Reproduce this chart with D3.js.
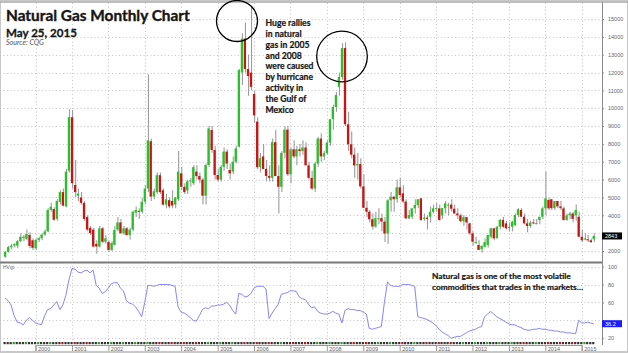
<!DOCTYPE html>
<html>
<head>
<meta charset="utf-8">
<script src="https://cdn.jsdelivr.net/npm/d3@7"></script>
<style>
  body { margin: 0; background: #fff; }
  svg { display: block; font-family: "Liberation Sans", Arial, sans-serif; }
  .note { font-family: Lato, "Open Sans", sans-serif; font-weight: 700; fill: #161616; stroke: #161616; stroke-width: 0.22px; }
</style>
</head>
<body>
<div id="chart"></div>
<script>
// monthly candles, Mar 1999 .. May 2015 (price x1000)
var months = d3.timeMonth.range(new Date(1999, 2, 1), new Date(2015, 5, 1));

var opens = [
  1680, 1950, 2220, 2300, 2300, 2550, 2720, 2680, 2900, 2600,
  2150, 2620, 2720, 2920, 3100, 4300, 4350, 3800, 4750, 5300,
  4500, 6500, 9500, 5700, 5100, 5000, 4700, 3900, 3300, 3200,
  2400, 2250, 3270, 2520, 2500, 2060, 2350, 3200, 3600, 3000,
  3270, 2900, 3200, 4150, 4250, 4200, 4760, 5500, 8150, 5050,
  5300, 6250, 5400, 4600, 4850, 4800, 4600, 4900, 6350, 5600,
  5400, 5900, 5800, 6450, 6200, 6000, 5100, 6820, 8780, 7660,
  6260, 6000, 6720, 7570, 6540, 6450, 7000, 7850, 12000, 13900,
  12200, 12000, 10800, 9250, 6700, 7300, 6600, 6200, 6100, 8100,
  6200, 5600, 7500, 8800, 6300, 7700, 7300, 7700, 7600, 7800,
  6800, 6100, 5500, 6900, 8300, 7300, 7480, 8070, 9400, 10070,
  11200, 11750, 13370, 9100, 7980, 7400, 6800, 6870, 5620, 4420,
  4200, 3780, 3370, 3840, 3840, 3650, 2980, 4840, 5040, 4900,
  5570, 5230, 4770, 3830, 3920, 4390, 4580, 4950, 3800, 3870,
  3920, 4200, 4400, 4390, 4000, 4390, 4600, 4600, 4370, 4100,
  4000, 3670, 3900, 3550, 2990, 2500, 2340, 2100, 2240, 2340,
  2800, 3270, 2710, 3360, 3740, 3550, 3350, 3360, 3460, 4020,
  4300, 3920, 3550, 3400, 3600, 3560, 3740, 3920, 4390, 4860,
  4900, 4400, 4800, 4500, 4390, 3740, 4000, 4100, 4000, 3920,
  2800, 2700, 2660, 2600, 2660
];
var highs = [
  2000, 2300, 2400, 2450, 2620, 3000, 2900, 3200, 3050, 2700,
  2700, 2800, 2980, 3200, 4400, 4700, 4450, 4900, 5400, 5500,
  6600, 9950, 9900, 7100, 5500, 5300, 4800, 4000, 3400, 3300,
  2600, 3400, 3350, 2900, 2600, 2550, 3400, 3900, 3800, 3400,
  3350, 3300, 4250, 4500, 4400, 5000, 5700, 11900, 8300, 5500,
  6400, 6400, 5500, 5200, 5000, 5400, 5000, 7600, 6700, 5800,
  6000, 6100, 6800, 6800, 6400, 6100, 6900, 9000, 9000, 7900,
  6600, 6800, 7800, 7700, 6900, 7300, 7900, 12200, 14200, 14800,
  13000, 15700, 11000, 9500, 7500, 8000, 7100, 6800, 8300, 8800,
  6800, 7600, 9000, 9000, 7800, 8200, 7900, 8000, 8200, 8100,
  7000, 6500, 7000, 8400, 8600, 7600, 8200, 9400, 10200, 10900,
  12000, 13640, 13700, 9800, 8700, 7800, 7500, 7200, 6300, 4800,
  4300, 4100, 4200, 4400, 4100, 3900, 4900, 5300, 5100, 6000,
  6100, 5700, 4900, 4300, 4400, 4900, 4900, 4950, 4100, 4000,
  4500, 4600, 4700, 4600, 4400, 4800, 4700, 4900, 4600, 4400,
  4100, 4000, 3900, 3600, 3100, 2800, 2600, 2300, 2700, 2900,
  3300, 3300, 3400, 3800, 3900, 3700, 3600, 3700, 4100, 4400,
  4400, 4100, 3800, 3700, 3800, 3800, 3900, 4500, 6450, 5000,
  4900, 4800, 4800, 4800, 4500, 4100, 4200, 4200, 4600, 4200,
  3200, 3000, 2900, 2700, 3000
];
var lows = [
  1630, 1900, 2100, 2200, 2150, 2500, 2550, 2600, 2150, 2050,
  2050, 2500, 2600, 2850, 3050, 4200, 3700, 3700, 4600, 4500,
  4450, 6400, 5500, 5000, 4800, 4600, 3700, 3100, 2900, 2200,
  1850, 2200, 2450, 2400, 1950, 2000, 2300, 3100, 2950, 2900,
  2850, 2650, 3100, 3900, 3800, 4100, 4600, 5300, 4800, 4900,
  5200, 5200, 4550, 4400, 4400, 4400, 4400, 4800, 5400, 5200,
  5200, 5600, 5700, 6000, 5800, 4600, 4600, 6700, 7500, 6000,
  5900, 5900, 6500, 6600, 6000, 6300, 6900, 7800, 11300, 12000,
  10700, 11000, 9200, 6600, 6400, 6600, 5900, 5900, 5900, 6200,
  4100, 5300, 7200, 6200, 5800, 7200, 6800, 7300, 7400, 6800,
  6000, 5400, 5300, 6700, 7000, 7100, 7400, 7900, 8800, 9800,
  10700, 11600, 9000, 7600, 7200, 6100, 6000, 5500, 4400, 3900,
  3600, 3200, 3300, 3500, 3100, 2500, 2400, 4200, 4200, 4700,
  5000, 4700, 3800, 3800, 3800, 4100, 4400, 3700, 3700, 3200,
  3600, 4100, 4200, 3700, 3800, 4100, 4000, 4200, 4100, 3800,
  3600, 3400, 3200, 2900, 2300, 2400, 2050, 1900, 2200, 2200,
  2700, 2600, 2700, 3200, 3300, 3200, 3100, 3100, 3400, 3900,
  3900, 3500, 3050, 3300, 3500, 3500, 3500, 3800, 4000, 4300,
  4300, 4300, 4400, 4300, 3700, 3700, 3800, 3600, 3700, 2800,
  2500, 2600, 2500, 2450, 2500
];
var closes = [
  1950, 2220, 2300, 2380, 2550, 2800, 2800, 2950, 2280, 2180,
  2620, 2720, 2920, 3100, 4300, 4480, 3750, 4800, 5300, 4550,
  6450, 9500, 5800, 5300, 5220, 4700, 3800, 3200, 3000, 2250,
  2250, 3270, 2520, 2710, 2060, 2450, 3180, 3600, 3000, 3270,
  2900, 3200, 4200, 4300, 4200, 4760, 5500, 8200, 5050, 5350,
  6250, 5300, 4600, 4900, 4500, 4550, 5000, 6450, 5600, 5300,
  5900, 5950, 6700, 6200, 6000, 5100, 6820, 8870, 7660, 6260,
  6000, 6720, 7570, 6900, 6350, 7000, 7750, 12140, 13900, 12200,
  11800, 11200, 9600, 6700, 7200, 6600, 6200, 6100, 8100, 6200,
  5600, 7500, 8800, 6300, 7700, 7300, 7700, 7600, 7800, 6800,
  6100, 5500, 6900, 8300, 7300, 7480, 8070, 9380, 10070, 10740,
  11750, 13370, 9100, 7980, 7400, 6800, 6870, 5620, 4420, 4200,
  3780, 3370, 3840, 3840, 3650, 2980, 4840, 5040, 4900, 5570,
  5130, 4770, 3830, 4020, 4390, 4580, 4900, 3740, 3870, 3800,
  4200, 4390, 4400, 3740, 4400, 4670, 4600, 4370, 4100, 4000,
  3670, 3900, 3600, 2990, 2520, 2500, 2060, 2300, 2500, 2900,
  3270, 2710, 3360, 3740, 3360, 3270, 3350, 3640, 4020, 4340,
  3920, 3550, 3400, 3600, 3560, 3560, 3920, 4390, 4950, 4390,
  4400, 4800, 4500, 4400, 3740, 4000, 4100, 3800, 4300, 2800,
  2600, 2700, 2600, 2500, 2840
];
// historical volatility study (lower panel)
var volatility = [
  65, 62, 57, 45, 38, 37, 35, 40, 43, 40,
  37, 36, 35, 45, 52, 53, 57, 61, 52, 57,
  68, 85, 98, 97, 94, 93, 95, 96, 93, 96,
  79, 76, 70, 72, 76, 81, 82, 82, 76, 73,
  62, 59, 58, 55, 50, 44, 60, 79, 79, 78,
  79, 80, 80, 80, 80, 79, 78, 55, 49, 48,
  46, 43, 40, 39, 45, 52, 54, 53, 56, 56,
  57, 57, 58, 60, 57, 51, 47, 70, 69, 66,
  67, 70, 76, 78, 78, 78, 75, 42, 48, 53,
  58, 69, 70, 71, 73, 73, 72, 66, 64, 63,
  58, 54, 55, 50, 48, 47, 47, 48, 50, 48,
  47, 37, 51, 53, 52, 52, 51, 51, 49, 47,
  31, 30, 31, 32, 33, 60, 83, 79, 78, 78,
  78, 80, 80, 80, 79, 78, 44, 43, 42, 41,
  39, 37, 34, 30, 27, 25, 23, 20, 21, 22,
  22, 24, 26, 28, 29, 30, 32, 33, 44, 47,
  50, 47, 44, 42, 40, 38, 36, 35, 35, 33,
  32, 30, 29, 29, 30, 30, 31, 30, 30, 29,
  29, 28, 28, 27, 27, 26, 26, 25.5, 25, 40,
  37, 37, 38, 37, 36
];
var priceTicks = [2000, 3000, 4000, 5000, 6000, 7000, 8000, 9000, 10000, 11000, 12000, 13000, 14000, 15000];
var volTicks = [20, 40, 60, 80, 100];
var yearTicks = d3.range(2000, 2016).map(function(yr) { return new Date(yr, 0, 1); });
var lastPrice = "2843";
var lastVol = "36.2";

var svgWidth = 628;
var svgHeight = 353;
var plotRight = 602;
var upperTop = 3, upperBottom = 261;
var lowerTop = 264, lowerBottom = 341;

var svg = d3.select("#chart").append("svg")
  .attr("width", svgWidth)
  .attr("height", svgHeight);

var x = d3.scaleTime()
  .domain([new Date(2000, 0, 1), new Date(2015, 0, 1)])
  .range([35.5, 581.7]);
var y = d3.scaleLinear().domain([2000, 15000]).range([251, 19]);
var yv = d3.scaleLinear().domain([20, 100]).range([338.2, 266.6]);

var candles = months.map(function(d, i) {
  return { date: d, o: opens[i], h: highs[i], l: lows[i], c: closes[i], v: volatility[i] };
});

// frame
svg.append("rect").attr("x", 0.5).attr("y", 0.5).attr("width", svgWidth - 1).attr("height", svgHeight - 1)
  .attr("fill", "none").attr("stroke", "#c8c8c8");
svg.append("line").attr("x1", 0).attr("x2", svgWidth).attr("y1", 2).attr("y2", 2)
  .attr("stroke", "#a8a8a8").attr("stroke-width", 1.5);

var defs = svg.append("defs");
defs.append("clipPath").attr("id", "clipUp").append("rect")
  .attr("x", 0).attr("y", upperTop).attr("width", plotRight).attr("height", upperBottom - upperTop);
defs.append("clipPath").attr("id", "clipLow").append("rect")
  .attr("x", 0).attr("y", lowerTop).attr("width", plotRight).attr("height", lowerBottom - lowerTop);

// grid
var grid = svg.append("g").attr("stroke", "#c4c4c4").attr("stroke-dasharray", "1,2.5");
grid.selectAll(".hg").data(priceTicks).enter().append("line")
  .attr("x1", 0).attr("x2", plotRight)
  .attr("y1", d => Math.round(y(d)) + 0.5).attr("y2", d => Math.round(y(d)) + 0.5);
grid.selectAll(".vg").data(volTicks).enter().append("line")
  .attr("x1", 0).attr("x2", plotRight)
  .attr("y1", d => Math.round(yv(d)) + 0.5).attr("y2", d => Math.round(yv(d)) + 0.5);
grid.selectAll(".yg").data(yearTicks).enter().append("line")
  .attr("x1", d => Math.round(x(d)) + 0.5).attr("x2", d => Math.round(x(d)) + 0.5)
  .attr("y1", upperTop).attr("y2", lowerBottom);

// candles
var candleGroup = svg.append("g").attr("clip-path", "url(#clipUp)");
candleGroup.selectAll(".wick").data(candles).enter().append("line")
  .attr("x1", d => x(d.date) + 0.6).attr("x2", d => x(d.date) + 0.6)
  .attr("y1", d => y(d.h)).attr("y2", d => y(d.l))
  .attr("stroke", "#9c9c9c").attr("stroke-width", 1.1);
candleGroup.selectAll(".body").data(candles).enter().append("rect")
  .attr("x", d => x(d.date) - 1.1)
  .attr("width", 2.3)
  .attr("y", d => y(Math.max(d.o, d.c)))
  .attr("height", d => Math.max(1, Math.abs(y(d.o) - y(d.c))))
  .attr("fill", d => d.c >= d.o ? "#27c227" : "#cc1414");

// separator between panels
svg.append("line").attr("x1", 0).attr("x2", plotRight).attr("y1", 262.5).attr("y2", 262.5)
  .attr("stroke", "#7a7a7a").attr("stroke-width", 2);

// volatility line
var line = d3.line().x(d => x(d.date)).y(d => yv(d.v));
svg.append("path").datum(candles)
  .attr("clip-path", "url(#clipLow)")
  .attr("d", line)
  .attr("fill", "none")
  .attr("stroke", "#8585ff")
  .attr("stroke-width", 1);
svg.append("text").attr("x", 3).attr("y", 269).attr("font-size", 5).attr("fill", "#777").text("HVgt");

// bottom strip coloured by candle direction
svg.append("g").selectAll("rect").data(candles).enter().append("rect")
  .attr("x", d => x(d.date) - 1.5).attr("y", 342).attr("width", 2.2).attr("height", 2.2)
  .attr("fill", (d, i) => i % 4 === 3 ? (d.c >= d.o ? "#2a9a2a" : "#b01818") : "#333");

// right axes (labels hidden where the last-value flags sit)
var rightAxis = svg.append("g").attr("transform", `translate(${plotRight}, 0)`)
  .call(d3.axisRight(y).tickValues(priceTicks).tickSize(2)
    .tickFormat(d => d === 3000 ? "" : d3.format("d")(d)));
var volAxis = svg.append("g").attr("transform", `translate(${plotRight}, 0)`)
  .call(d3.axisRight(yv).tickValues(volTicks).tickSize(2)
    .tickFormat(d => d === 40 ? "" : d3.format("d")(d)));
[rightAxis, volAxis].forEach(function(g) {
  g.select(".domain").remove();
  g.selectAll("line").attr("stroke", "#888");
  g.selectAll("text").attr("x", 6).attr("font-size", 5.5).attr("fill", "#666")
    .attr("font-family", "Liberation Sans, Arial, sans-serif");
});
svg.append("line").attr("x1", plotRight + 0.5).attr("x2", plotRight + 0.5).attr("y1", 2).attr("y2", 345)
  .attr("stroke", "#8a8a8a");

// last value flags
var flagPrice = svg.append("g").attr("transform", `translate(${plotRight}, ${y(+lastPrice)})`);
flagPrice.append("rect").attr("x", 0).attr("y", -3.5).attr("width", 20).attr("height", 7).attr("fill", "#000");
flagPrice.append("text").attr("x", 3).attr("y", 2).attr("font-size", 5.5).attr("fill", "#fff").text(lastPrice);
var flagVol = svg.append("g").attr("transform", `translate(${plotRight}, ${yv(+lastVol)})`);
flagVol.append("rect").attr("x", 0).attr("y", -3.5).attr("width", 20).attr("height", 7).attr("fill", "#1d1dff");
flagVol.append("text").attr("x", 3).attr("y", 2).attr("font-size", 5.5).attr("fill", "#fff").text(lastVol);

// bottom year axis
var xAxis = svg.append("g").attr("transform", "translate(0, 345)")
  .call(d3.axisBottom(x).tickValues(yearTicks).tickSize(6).tickFormat(d3.timeFormat("%Y")));
xAxis.select(".domain").attr("stroke", "#999");
xAxis.selectAll("line").attr("stroke", "#999");
xAxis.selectAll("text").attr("text-anchor", "start").attr("x", 2).attr("y", 2)
  .attr("font-size", 5.5).attr("fill", "#666");
svg.append("line").attr("x1", 0).attr("x2", svgWidth).attr("y1", 351.5).attr("y2", 351.5)
  .attr("stroke", "#c8c8c8");

// title block
function fit(sel, width) {
  var len = sel.node().getComputedTextLength();
  sel.attr("font-size", parseFloat(sel.attr("font-size")) * width / len);
  return sel;
}
fit(svg.append("text").attr("class", "note").attr("x", 6).attr("y", 21).attr("font-size", 15)
  .style("stroke-width", "0.35px").text("Natural Gas Monthly Chart"), 184);
fit(svg.append("text").attr("class", "note").attr("x", 6).attr("y", 36.5).attr("font-size", 12)
  .style("stroke-width", "0.3px").text("May 25, 2015"), 71);
fit(svg.append("text").attr("x", 6).attr("y", 45).attr("font-size", 6).attr("font-style", "italic")
  .attr("fill", "#555").attr("font-family", "Lato, sans-serif").text("Source: CQG"), 38);

// annotations
var noteLines = ["Huge rallies", "in natural", "gas in 2005", "and 2008", "were caused",
  "by hurricane", "activity in", "the Gulf of", "Mexico"];
var note1 = svg.append("g");
var probe = note1.append("text").attr("class", "note").attr("font-size", 10).text("were caused");
var noteSize = 10 * 48 / probe.node().getComputedTextLength();
probe.remove();
note1.selectAll("text").data(noteLines).enter().append("text")
  .attr("class", "note").attr("x", 265.5).attr("y", (d, i) => 26 + i * 10.85)
  .attr("font-size", noteSize).text(d => d);

var t1 = fit(svg.append("text").attr("class", "note").attr("x", 432).attr("y", 279.3).attr("font-size", 10)
  .text("Natural gas is one of the most volatile"), 139);
svg.append("text").attr("class", "note").attr("x", 432).attr("y", 290.2).attr("font-size", t1.attr("font-size"))
  .text("commodities that trades in the markets\u2026");

// highlight circles
svg.append("circle").attr("cx", 237).attr("cy", 21).attr("r", 20.5)
  .attr("fill", "none").attr("stroke", "#000").attr("stroke-width", 1.3);
svg.append("circle").attr("cx", 342).attr("cy", 56.5).attr("r", 25.3)
  .attr("fill", "none").attr("stroke", "#000").attr("stroke-width", 1.3);
</script>
</body>
</html>
